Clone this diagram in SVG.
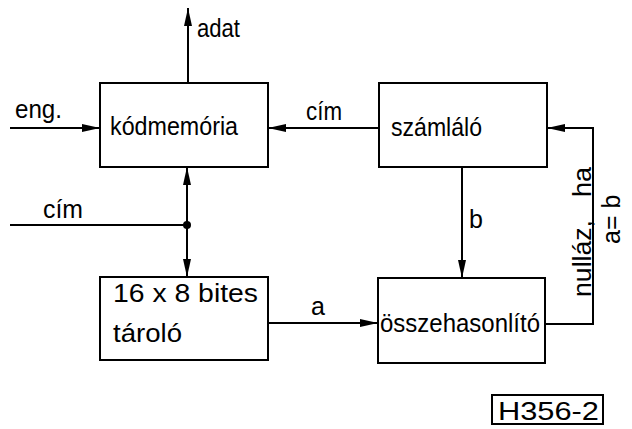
<svg xmlns="http://www.w3.org/2000/svg" width="632" height="429" viewBox="0 0 632 429">
<style>
.box{fill:#fff;stroke:#000;stroke-width:2}
.ln{fill:none;stroke:#000;stroke-width:2}
text{font-family:"Liberation Sans",Arial,sans-serif;font-size:25px;fill:#000}
</style>
<defs>
<marker id="ah" markerUnits="userSpaceOnUse" markerWidth="20" markerHeight="10" refX="18" refY="4" orient="auto">
<path d="M0,0 L18,4 L0,8 Z" fill="#000"/>
</marker>
</defs>
<rect width="632" height="429" fill="#fff"/>
<g id="connectors">
<line class="ln" x1="188" y1="83" x2="188" y2="8" marker-end="url(#ah)"/>
<line class="ln" x1="10" y1="128" x2="100" y2="128" marker-end="url(#ah)"/>
<line class="ln" x1="379" y1="128" x2="268" y2="128" marker-end="url(#ah)"/>
<polyline class="ln" points="545,324 593,324 593,128 547,128" marker-end="url(#ah)"/>
<line class="ln" x1="462" y1="167" x2="462" y2="278" marker-end="url(#ah)"/>
<line class="ln" x1="268" y1="323" x2="378" y2="323" marker-end="url(#ah)"/>
<line class="ln" x1="10" y1="225" x2="187" y2="225"/>
<line class="ln" x1="187" y1="225" x2="187" y2="167" marker-end="url(#ah)"/>
<line class="ln" x1="187" y1="225" x2="187" y2="277" marker-end="url(#ah)"/>
<circle cx="187" cy="225" r="4" fill="#000"/>
<text x="197" y="37" textLength="43" lengthAdjust="spacingAndGlyphs">adat</text>
<text x="15" y="118" textLength="47" lengthAdjust="spacingAndGlyphs">eng.</text>
<text x="306" y="120" textLength="36" lengthAdjust="spacingAndGlyphs">cím</text>
<text x="43" y="218" textLength="40" lengthAdjust="spacingAndGlyphs">cím</text>
<text x="311" y="315">a</text>
<text x="469" y="228">b</text>
<text transform="translate(591,297) rotate(-90)"><tspan x="0" textLength="77" lengthAdjust="spacingAndGlyphs">nulláz,</tspan><tspan x="100" textLength="30" lengthAdjust="spacingAndGlyphs">ha</tspan></text>
<text transform="translate(620,244) rotate(-90)" font-size="22">a= b</text>
</g>
<g id="kodmemoria">
<rect class="box" x="100" y="83" width="168" height="84"/>
<text x="110" y="135" textLength="128" lengthAdjust="spacingAndGlyphs">kódmemória</text>
</g>
<g id="szamlalo">
<rect class="box" x="379" y="83" width="168" height="84"/>
<text x="391" y="136" textLength="91" lengthAdjust="spacingAndGlyphs">számláló</text>
</g>
<g id="tarolo">
<rect class="box" x="100" y="277" width="168" height="83"/>
<text x="113" y="302" textLength="145" lengthAdjust="spacingAndGlyphs">16 x 8  bites</text>
<text x="113" y="342" textLength="69" lengthAdjust="spacingAndGlyphs">tároló</text>
</g>
<g id="osszehasonlito">
<rect class="box" x="378" y="278" width="167" height="85"/>
<text x="380" y="332" textLength="160" lengthAdjust="spacingAndGlyphs">összehasonlító</text>
</g>
<g id="label">
<rect class="box" x="492" y="395" width="111" height="29"/>
<text x="498" y="420" font-size="26" textLength="101" lengthAdjust="spacingAndGlyphs">H356-2</text>
</g>
</svg>
